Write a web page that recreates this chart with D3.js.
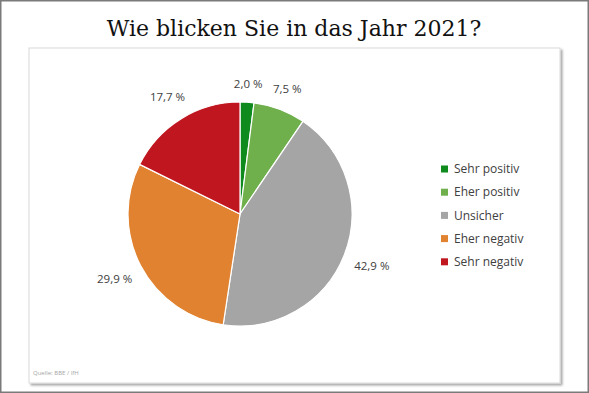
<!DOCTYPE html>
<html>
<head>
<meta charset="utf-8">
<script src="https://cdn.jsdelivr.net/npm/d3@7"></script>
<style>
  body { margin: 0; background: #fff; }
  svg { display: block; }
</style>
</head>
<body>
<div id="chart"></div>
<script>
var width = 589, height = 393;

// survey answers, clockwise from 12 o'clock
var categories = ["Sehr positiv", "Eher positiv", "Unsicher", "Eher negativ", "Sehr negativ"];
var values = [2.0, 7.5, 42.9, 29.9, 17.7];
var colors = ["#0f8a1c", "#6fb04d", "#a5a5a5", "#e0822f", "#c0161f"];

var svg = d3.select("#chart").append("svg")
    .attr("width", width)
    .attr("height", height);

/* outer frame of the slide */
svg.append("rect")
    .attr("x", 0.75).attr("y", 0.75)
    .attr("width", width - 1.5).attr("height", height - 1.5)
    .attr("fill", "#fff")
    .attr("stroke", "#7a7a7a")
    .attr("stroke-width", 1.5);

/* title */
svg.append("text")
    .attr("x", 294)
    .attr("y", 36)
    .attr("text-anchor", "middle")
    .style("font-family", "'DejaVu Serif', serif")
    .style("font-size", "22px")
    .attr("fill", "#111")
    .text("Wie blicken Sie in das Jahr 2021?");

/* chart box with a soft shadow on the right / bottom */
var box = {x: 29, y: 48, w: 531, h: 335};
var defs = svg.append("defs");
var f = defs.append("filter").attr("id", "shadow")
    .attr("x", "-5%").attr("y", "-5%").attr("width", "110%").attr("height", "110%");
f.append("feDropShadow")
    .attr("dx", 2).attr("dy", 2).attr("stdDeviation", 1.2)
    .attr("flood-color", "#000").attr("flood-opacity", 0.35);

svg.append("rect")
    .attr("x", box.x).attr("y", box.y)
    .attr("width", box.w).attr("height", box.h)
    .attr("fill", "#fff")
    .attr("stroke", "#d9d9d9")
    .attr("stroke-width", 1)
    .attr("filter", "url(#shadow)");

/* pie */
var cx = 240, cy = 214, radius = 112;

var color = d3.scaleOrdinal().domain(categories).range(colors);

var data = categories.map(function(c, i) { return {name: c, value: values[i]}; });

var pie = d3.pie()
    .value(function(d) { return d.value; })
    .sort(null);

var arc = d3.arc().innerRadius(0).outerRadius(radius);

var g = svg.append("g").attr("transform", "translate(" + cx + "," + cy + ")");

var arcs = pie(data);

g.selectAll("path")
    .data(arcs)
    .enter().append("path")
    .attr("d", arc)
    .attr("fill", function(d) { return color(d.data.name); })
    .attr("stroke", "#fff")
    .attr("stroke-width", 1.2);

/* data labels just outside the slices (Excel-style "outside end") */
var fmt = function(v) { return d3.format(".1f")(v).replace(".", ",") + " %"; };
var labelRadius = 123;

var labels = g.selectAll("text.lbl")
    .data(arcs)
    .enter().append("text")
    .attr("class", "lbl")
    .attr("text-anchor", "middle")
    .attr("dy", "0.35em")
    .style("font-family", "'Open Sans', sans-serif")
    .style("font-size", "11.5px")
    .attr("fill", "#404040")
    .text(function(d) { return fmt(d.data.value); });

labels.each(function(d) {
    var a = (d.startAngle + d.endAngle) / 2;
    var s = Math.sin(a), c = Math.cos(a);
    var w = this.getComputedTextLength();
    var extra = Math.abs(s) * w / 2 + Math.abs(c) * 6;
    var r = labelRadius + extra;
    d3.select(this)
        .attr("x", r * s)
        .attr("y", -r * c);
});

/* legend */
var leg = svg.append("g")
    .attr("transform", "translate(441,169)")
    .selectAll("g")
    .data(categories)
    .enter().append("g")
    .attr("transform", function(d, i) { return "translate(0," + i * 23.2 + ")"; });

leg.append("rect")
    .attr("x", 0).attr("y", -3.5)
    .attr("width", 7).attr("height", 7)
    .attr("fill", color);

leg.append("text")
    .attr("x", 13)
    .attr("dy", "0.35em")
    .style("font-family", "'Open Sans', sans-serif")
    .style("font-size", "12px")
    .attr("fill", "#404040")
    .text(function(d) { return d; });

/* source */
svg.append("text")
    .attr("x", 33)
    .attr("y", 375)
    .style("font-family", "'Open Sans', sans-serif")
    .style("font-size", "6px")
    .attr("fill", "#a6a6a6")
    .text("Quelle: BBE / IfH");
</script>
</body>
</html>
